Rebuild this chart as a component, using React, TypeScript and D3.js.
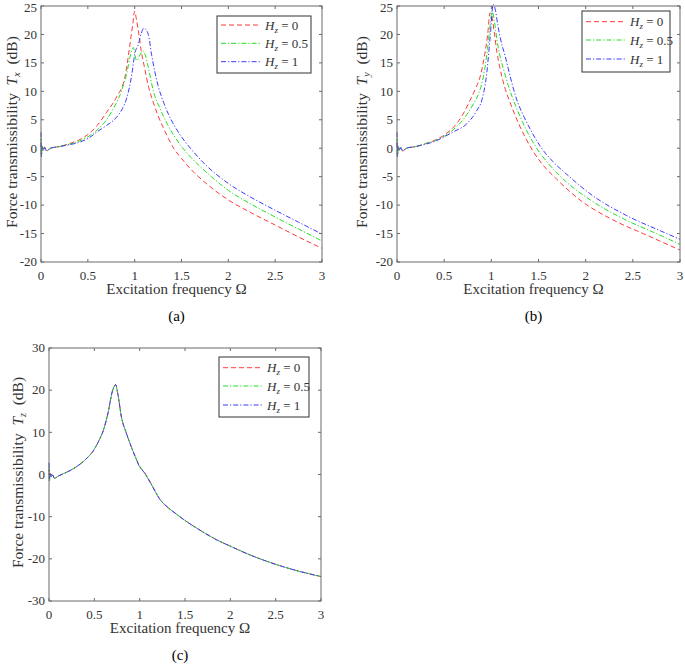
import React from "react";
import * as d3 from "d3";

// ---------- data (Ω, dB) ----------
const X_TICKS = [0, 0.5, 1, 1.5, 2, 2.5, 3];
const X_TICK_LABELS = ["0", "0.5", "1", "1.5", "2", "2.5", "3"];
const Y_TICKS_AB = [-20, -15, -10, -5, 0, 5, 10, 15, 20, 25];
const Y_TICKS_C = [-30, -20, -10, 0, 10, 20, 30];
const HZ_LABELS = ["0", "0.5", "1"];

const A_RED: [number, number][] = [
  [0, 1.0], [0.005, -1.2], [0.012, 0.3], [0.025, -0.2], [0.04, 0.2], [0.06, -0.5], [0.1, 0.0],
  [0.2, 0.3], [0.3, 0.8], [0.4, 1.4], [0.5, 2.4], [0.6, 4.0], [0.7, 6.3], [0.8, 8.8],
  [0.9, 12.8], [0.95, 18.3], [0.98, 21.8], [1.0, 24.1], [1.02, 22.5], [1.05, 19.5],
  [1.07, 17.1], [1.1, 14.6], [1.15, 10.7], [1.2, 8.0], [1.25, 5.7], [1.3, 3.8], [1.36, 1.7],
  [1.42, -0.1], [1.5, -1.8], [1.6, -3.7], [1.75, -6.0], [2.0, -9.1], [2.25, -11.4],
  [2.5, -13.5], [2.75, -15.6], [3.0, -17.6],
];
const A_GREEN: [number, number][] = [
  [0, 1.8], [0.005, -1.4], [0.012, 0.4], [0.025, -0.3], [0.04, 0.1], [0.06, -0.4], [0.1, 0.0],
  [0.2, 0.3], [0.3, 0.7], [0.4, 1.2], [0.5, 2.0], [0.6, 3.2], [0.7, 5.0], [0.76, 6.6],
  [0.86, 10.1], [0.92, 13.5], [0.95, 16.0], [0.985, 17.7], [1.02, 15.4], [1.05, 16.2],
  [1.09, 17.1], [1.12, 16.0], [1.146, 14.2], [1.2, 10.0], [1.27, 7.0], [1.35, 4.2],
  [1.42, 2.2], [1.5, 0.3], [1.6, -1.6], [1.75, -4.0], [2.0, -7.4], [2.25, -9.9],
  [2.5, -12.1], [2.75, -14.2], [3.0, -16.3],
];
const A_BLUE: [number, number][] = [
  [0, 2.8], [0.005, -1.5], [0.012, 0.3], [0.025, -0.4], [0.04, 0.1], [0.06, -0.5], [0.1, 0.0],
  [0.2, 0.3], [0.3, 0.6], [0.4, 1.0], [0.5, 1.7], [0.61, 3.0], [0.7, 4.0], [0.78, 5.0],
  [0.825, 5.8], [0.87, 7.0], [0.915, 8.8], [0.97, 13.0], [1.0, 16.5], [1.04, 18.3],
  [1.07, 20.2], [1.1, 21.1], [1.146, 20.0], [1.18, 16.5], [1.25, 11.0], [1.31, 8.0],
  [1.36, 6.0], [1.43, 3.8], [1.5, 2.0], [1.6, -0.1], [1.75, -2.8], [2.0, -6.2],
  [2.25, -8.7], [2.5, -10.9], [2.75, -13.0], [3.0, -15.1],
];

const B_RED: [number, number][] = [
  [0, 1.0], [0.005, -1.3], [0.012, 0.3], [0.025, -0.3], [0.04, 0.1], [0.06, -0.5], [0.1, 0.0],
  [0.2, 0.3], [0.3, 0.8], [0.4, 1.4], [0.5, 2.3], [0.6, 3.7], [0.7, 6.0], [0.774, 8.4],
  [0.83, 10.4], [0.88, 12.5], [0.93, 16.5], [0.96, 19.8], [0.986, 23.8], [1.0, 23.6],
  [1.03, 20.5], [1.06, 16.8], [1.09, 14.2], [1.14, 10.8], [1.2, 8.0], [1.29, 4.3],
  [1.37, 1.6], [1.445, -0.6], [1.55, -3.0], [1.69, -5.4], [1.94, -9.1], [2.29, -12.6],
  [2.65, -15.3], [3.0, -17.9],
];
const B_GREEN: [number, number][] = [
  [0, 1.8], [0.005, -1.4], [0.012, 0.4], [0.025, -0.3], [0.04, 0.1], [0.06, -0.4], [0.1, 0.0],
  [0.2, 0.3], [0.3, 0.8], [0.4, 1.3], [0.5, 2.1], [0.6, 3.3], [0.7, 5.0], [0.81, 7.8],
  [0.87, 9.8], [0.915, 12.5], [0.96, 17.5], [0.99, 22.0], [1.008, 24.1], [1.03, 22.6],
  [1.06, 19.0], [1.1, 15.6], [1.127, 14.0], [1.18, 11.0], [1.233, 8.5], [1.31, 5.4],
  [1.39, 2.6], [1.48, 0.0], [1.6, -2.6], [1.76, -5.4], [2.05, -9.1], [2.4, -12.4],
  [2.75, -15.0], [3.0, -16.9],
];
const B_BLUE: [number, number][] = [
  [0, 2.8], [0.005, -1.5], [0.012, 0.3], [0.025, -0.4], [0.04, 0.1], [0.06, -0.5], [0.1, 0.0],
  [0.2, 0.3], [0.3, 0.7], [0.4, 1.2], [0.5, 2.0], [0.6, 2.9], [0.74, 4.3], [0.845, 6.6],
  [0.9, 8.5], [0.95, 13.0], [0.99, 20.0], [1.02, 25.3], [1.04, 24.5], [1.07, 21.5],
  [1.1, 19.0], [1.145, 16.3], [1.2, 12.6], [1.27, 8.5], [1.35, 5.4], [1.43, 2.8],
  [1.52, 0.3], [1.65, -2.3], [1.8, -4.6], [2.08, -8.4], [2.43, -11.8], [2.79, -14.5],
  [3.0, -16.0],
];

const C_RED: [number, number][] = [
  [0, 1.2], [0.005, -1.3], [0.012, 0.3], [0.025, -0.6], [0.04, -0.1], [0.06, -0.9], [0.1, -0.4],
  [0.15, 0.1], [0.2, 0.6], [0.3, 1.8], [0.4, 3.5], [0.5, 6.0], [0.55, 8.0], [0.6, 10.5],
  [0.65, 14.5], [0.7, 19.8], [0.735, 21.3], [0.76, 19.0], [0.8, 13.5], [0.85, 10.0],
  [0.9, 7.0], [0.95, 4.3], [1.0, 1.9], [1.05, 0.6], [1.1, -1.1], [1.15, -3.1], [1.22, -5.8],
  [1.3, -7.6], [1.4, -9.3], [1.5, -10.9], [1.65, -13.0], [1.85, -15.5], [2.0, -17.0],
  [2.22, -19.1], [2.5, -21.3], [2.75, -22.9], [3.0, -24.2],
];
const C_GREEN: [number, number][] = [
  [0, 1.8], [0.005, -1.4], [0.012, 0.3], [0.025, -0.6], [0.04, -0.1], [0.06, -0.9], [0.1, -0.4],
  [0.15, 0.1], [0.2, 0.6], [0.3, 1.8], [0.4, 3.5], [0.5, 6.0], [0.55, 8.0], [0.6, 10.5],
  [0.65, 14.5], [0.7, 19.8], [0.735, 21.3], [0.76, 19.0], [0.8, 13.5], [0.85, 10.0],
  [0.9, 7.0], [0.95, 4.3], [1.0, 2.0], [1.05, 0.4], [1.1, -1.2], [1.15, -3.2], [1.22, -5.8],
  [1.3, -7.6], [1.4, -9.3], [1.5, -10.9], [1.65, -13.0], [1.85, -15.5], [2.0, -17.0],
  [2.22, -19.1], [2.5, -21.3], [2.75, -22.9], [3.0, -24.2],
];
const C_BLUE: [number, number][] = [
  [0, 2.8], [0.005, -1.5], [0.012, 0.3], [0.025, -0.6], [0.04, -0.1], [0.06, -0.9], [0.1, -0.4],
  [0.15, 0.1], [0.2, 0.6], [0.3, 1.8], [0.4, 3.5], [0.5, 6.0], [0.55, 8.0], [0.6, 10.5],
  [0.65, 14.5], [0.7, 19.8], [0.735, 21.3], [0.76, 19.0], [0.8, 13.5], [0.85, 10.0],
  [0.9, 7.0], [0.95, 4.3], [1.0, 1.8], [1.05, 0.5], [1.1, -1.3], [1.15, -3.2], [1.22, -5.8],
  [1.3, -7.6], [1.4, -9.3], [1.5, -10.9], [1.65, -13.0], [1.85, -15.5], [2.0, -17.0],
  [2.22, -19.1], [2.5, -21.3], [2.75, -22.9], [3.0, -24.2],
];

// ---------- styles ----------
const COLORS = ["#ff3b3b", "#22e022", "#3b3bff"];
const DASHES = ["5,3", "5,2,1.2,2", "5,2,1.2,2"];
const FONT = "'Liberation Serif', 'Times New Roman', serif";
const AXIS_COLOR = "#6a6a6a";
const TEXT_COLOR = "#333";

type PanelCfg = {
  left: number; right: number; top: number; bottom: number;
  yDomain: [number, number]; yTicks: number[];
  series: [number, number][][];
  sub: string; tag: string;
  legend: { x0: number; y0: number; x1: number; y1: number; rows: number[] };
  ylabelX: number;
};

const PANELS: PanelCfg[] = [
  {
    left: 41, right: 322, top: 6, bottom: 262, yDomain: [-20, 25], yTicks: Y_TICKS_AB,
    series: [A_RED, A_GREEN, A_BLUE], sub: "x", tag: "(a)",
    legend: { x0: 217, y0: 16, x1: 311, y1: 73, rows: [25, 43.3, 61.7] }, ylabelX: 12,
  },
  {
    left: 397, right: 680, top: 6, bottom: 262, yDomain: [-20, 25], yTicks: Y_TICKS_AB,
    series: [B_RED, B_GREEN, B_BLUE], sub: "y", tag: "(b)",
    legend: { x0: 582, y0: 11, x1: 670, y1: 72, rows: [21.7, 40, 59] }, ylabelX: 362,
  },
  {
    left: 49, right: 321, top: 348, bottom: 601, yDomain: [-30, 30], yTicks: Y_TICKS_C,
    series: [C_RED, C_GREEN, C_BLUE], sub: "z", tag: "(c)",
    legend: { x0: 219, y0: 357, x1: 309, y1: 417, rows: [367.7, 386, 405] }, ylabelX: 18,
  },
];

function Panel({ p }: { p: PanelCfg }) {
  const x = d3.scaleLinear().domain([0, 3]).range([p.left, p.right]);
  const y = d3.scaleLinear().domain(p.yDomain).range([p.bottom, p.top]);
  const line = d3
    .line<[number, number]>()
    .x((d) => x(d[0]))
    .y((d) => y(d[1]))
    .curve(d3.curveMonotoneX);
  const tl = 3;
  const midX = (p.left + p.right) / 2;
  const midY = (p.top + p.bottom) / 2;
  const lg = p.legend;
  return (
    <g>
      <defs>
        <clipPath id={"clip" + p.tag}>
          <rect x={p.left} y={p.top} width={p.right - p.left} height={p.bottom - p.top} />
        </clipPath>
      </defs>
      <g clipPath={`url(#clip${p.tag})`}>
        {p.series.map((s, i) => (
          <path key={i} d={line(s) || ""} fill="none" stroke={COLORS[i]}
            strokeWidth={1} strokeDasharray={DASHES[i]} />
        ))}
      </g>
      <rect x={p.left} y={p.top} width={p.right - p.left} height={p.bottom - p.top}
        fill="none" stroke={AXIS_COLOR} strokeWidth={1} />
      {X_TICKS.map((t, i) => (
        <g key={"x" + i}>
          <line x1={x(t)} x2={x(t)} y1={p.bottom} y2={p.bottom - tl} stroke={AXIS_COLOR} />
          <line x1={x(t)} x2={x(t)} y1={p.top} y2={p.top + tl} stroke={AXIS_COLOR} />
          <text x={x(t)} y={p.bottom + 17.5} textAnchor="middle" fontSize={13}
            fontFamily={FONT} fill={TEXT_COLOR}>{X_TICK_LABELS[i]}</text>
        </g>
      ))}
      {p.yTicks.map((t, i) => (
        <g key={"y" + i}>
          <line x1={p.left} x2={p.left + tl} y1={y(t)} y2={y(t)} stroke={AXIS_COLOR} />
          <line x1={p.right} x2={p.right - tl} y1={y(t)} y2={y(t)} stroke={AXIS_COLOR} />
          <text x={p.left - 4} y={Math.max(y(t) + 4.3, 11.8)} textAnchor="end" fontSize={13}
            fontFamily={FONT} fill={TEXT_COLOR}>{t}</text>
        </g>
      ))}
      <text x={midX - 5} y={p.bottom + 32} textAnchor="middle" fontSize={15}
        fontFamily={FONT} fill={TEXT_COLOR}>Excitation frequency Ω</text>
      <text transform={`translate(${p.ylabelX + 5},${midY - 2}) rotate(-90)`} textAnchor="middle"
        fontSize={15.5} fontFamily={FONT} fill={TEXT_COLOR}>
        Force transmissibility{"\u00a0\u00a0"}
        <tspan fontStyle="italic">T</tspan>
        <tspan fontStyle="italic" fontSize={10} dy={3}>{p.sub}</tspan>
        <tspan dy={-3}>{"\u00a0\u00a0"}(dB)</tspan>
      </text>
      <text x={midX - 5} y={p.bottom + 59} textAnchor="middle" fontSize={15}
        fontFamily={FONT} fill="#000">{p.tag}</text>
      <rect x={lg.x0} y={lg.y0} width={lg.x1 - lg.x0} height={lg.y1 - lg.y0}
        fill="#fff" stroke="#333" strokeWidth={1} />
      {lg.rows.map((ry, i) => (
        <g key={"l" + i}>
          <line x1={lg.x0 + 4} x2={lg.x0 + 44} y1={ry} y2={ry} stroke={COLORS[i]}
            strokeWidth={1} strokeDasharray={DASHES[i]} />
          <text x={lg.x0 + 48} y={ry + 4.5} fontSize={13} fontFamily={FONT} fill={TEXT_COLOR}>
            <tspan fontStyle="italic">H</tspan>
            <tspan fontStyle="italic" fontSize={9} dy={3}>z</tspan>
            <tspan dy={-3}>{" = " + HZ_LABELS[i]}</tspan>
          </text>
        </g>
      ))}
    </g>
  );
}

export default function App() {
  return (
    <svg width={685} height={667} style={{ position: "absolute", left: 0, top: 0, background: "#fff" }}>
      <rect x={0} y={0} width={685} height={667} fill="#fff" />
      {PANELS.map((p) => (
        <Panel key={p.tag} p={p} />
      ))}
    </svg>
  );
}
